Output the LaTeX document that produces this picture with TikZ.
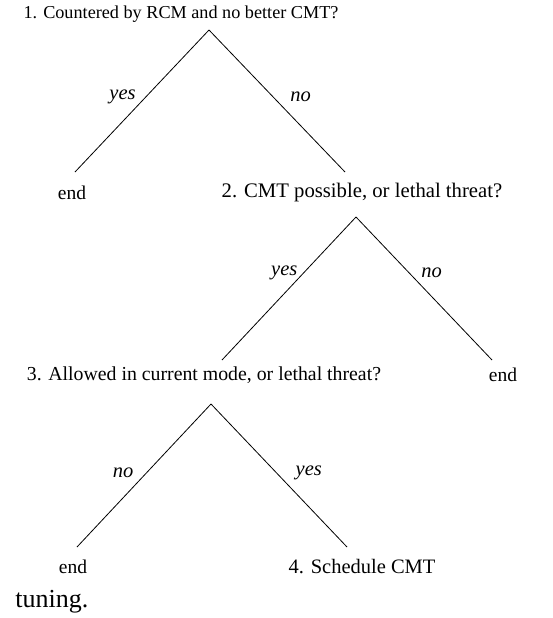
\documentclass[tikz,border=0pt]{standalone}
\usepackage{fontspec}
\setmainfont{Liberation Serif}
\begin{document}
\begin{tikzpicture}[x=1pt,y=-1pt,line width=0.8pt,
    txt/.style={font=\fontsize{#1}{#1}\selectfont,inner sep=0pt},
    txt/.default=19.5,
    lbl/.style={font=\fontsize{20.5}{22}\selectfont\itshape,inner sep=0pt}]
    \useasboundingbox (0,0) rectangle (553,618);
    % questions and outcomes
    \node[txt=18.2] at (181,14) (q1){1. Countered by RCM and no better CMT?};
    \node[txt] at (72,193) (end1){end};
    \node[txt=20.7] at (362,193) (q2){2. CMT possible, or lethal threat?};
    \node[txt=19.8] at (204,375) (q3){3. Allowed in current mode, or lethal threat?};
    \node[txt] at (503,375) (end2){end};
    \node[txt] at (73,567) (end3){end};
    \node[txt=20.5] at (362,567) (q4){4. Schedule CMT};
    \node[txt=26,anchor=west] at (15,602) (tun){tuning.};
    % branch points
    \coordinate (a1) at (209,30);
    \coordinate (l1) at (75,172);
    \coordinate (r1) at (345,172);
    \coordinate (a2) at (356,217);
    \coordinate (l2) at (222,360);
    \coordinate (r2) at (492,360);
    \coordinate (a3) at (211,404);
    \coordinate (l3) at (77,547);
    \coordinate (r3) at (347,547);
    \draw (a1) -- (l1) node[lbl,pos=.47,left=10pt]{yes};
    \draw (a1) -- (r1) node[lbl,pos=.47,right=17pt]{no};
    \draw (a2) -- (l2) node[lbl,pos=.39,left=6pt]{yes};
    \draw (a2) -- (r2) node[lbl,pos=.39,right=12pt]{no};
    \draw (a3) -- (l3) node[lbl,pos=.48,left=13pt]{no};
    \draw (a3) -- (r3) node[lbl,pos=.48,right=19pt]{yes};
\end{tikzpicture}
\end{document}
